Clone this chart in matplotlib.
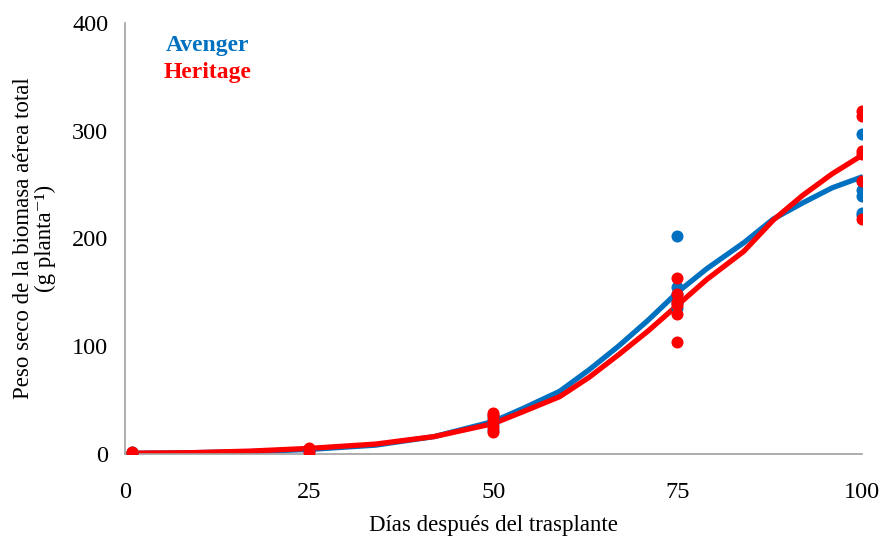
import matplotlib.pyplot as plt

plt.rcParams['font.family'] = ['Liberation Serif', 'DejaVu Serif']

# Curvas ajustadas
dias_curva = [1, 9, 17, 25, 34, 42, 50, 54, 59, 63, 67, 71, 75, 79, 84, 88, 92, 96, 100]
avenger_curva = [0.5, 1, 2, 4, 8, 16, 30, 42, 58, 78, 100, 124, 150, 172, 196, 218, 233, 247, 257]
heritage_curva = [0.5, 1, 2.5, 5, 9, 16, 28, 39, 53, 71, 92, 114, 138, 162, 188, 217, 240, 260, 277]

# Datos observados
avenger_dias = [1, 1, 25, 25, 50, 50, 50, 50, 75, 75, 75, 75, 75, 100, 100, 100, 100, 100, 100]
avenger_obs = [1, 1.5, 3, 4, 22, 28, 32, 36, 202, 155, 148, 140, 135, 297, 253, 245, 239, 224, 222]
heritage_dias = [1, 1, 25, 25, 50, 50, 50, 50, 50, 75, 75, 75, 75, 75, 75, 100, 100, 100, 100, 100, 100]
heritage_obs = [1, 1.5, 2, 5, 20, 25, 30, 35, 38, 163, 148, 141, 138, 130, 104, 318, 314, 281, 278, 253, 218]

azul = '#0070C0'
rojo = '#FF0000'

fig = plt.figure(figsize=(8.81, 5.37), dpi=100)
ax = fig.add_axes([0.142, 0.155, 0.836, 0.802])

ax.scatter(avenger_dias, avenger_obs, s=75, color=azul, zorder=3, linewidths=0)
ax.scatter(heritage_dias, heritage_obs, s=75, color=rojo, zorder=4, linewidths=0)
ax.plot(dias_curva, avenger_curva, color=azul, linewidth=3.8, zorder=2)
ax.plot(dias_curva, heritage_curva, color=rojo, linewidth=3.8, zorder=2)

ax.set_xlim(0, 100)
ax.set_ylim(0, 400)
ax.set_xticks([0, 25, 50, 75, 100])
ax.set_yticks([0, 100, 200, 300, 400])
ax.tick_params(axis='both', length=0, labelsize=17.5)
ax.tick_params(axis='x', pad=20)
ax.tick_params(axis='y', pad=12)

for lado in ['top', 'right']:
    ax.spines[lado].set_visible(False)
for lado in ['left', 'bottom']:
    ax.spines[lado].set_color('#A0A0A0')
    ax.spines[lado].set_linewidth(1.2)

ax.set_xlabel('Días después del trasplante', fontsize=16.5, labelpad=9)
ax.set_ylabel('Peso seco de la biomasa aérea total\n(g planta⁻¹)', fontsize=16.5, labelpad=12,
              linespacing=1.0)

ax.text(0.112, 0.948, 'Avenger', transform=ax.transAxes, color=azul, fontsize=17,
        fontweight='bold', ha='center', va='center')
ax.text(0.112, 0.885, 'Heritage', transform=ax.transAxes, color=rojo, fontsize=17,
        fontweight='bold', ha='center', va='center')

fig.savefig('out.png', dpi=100)
